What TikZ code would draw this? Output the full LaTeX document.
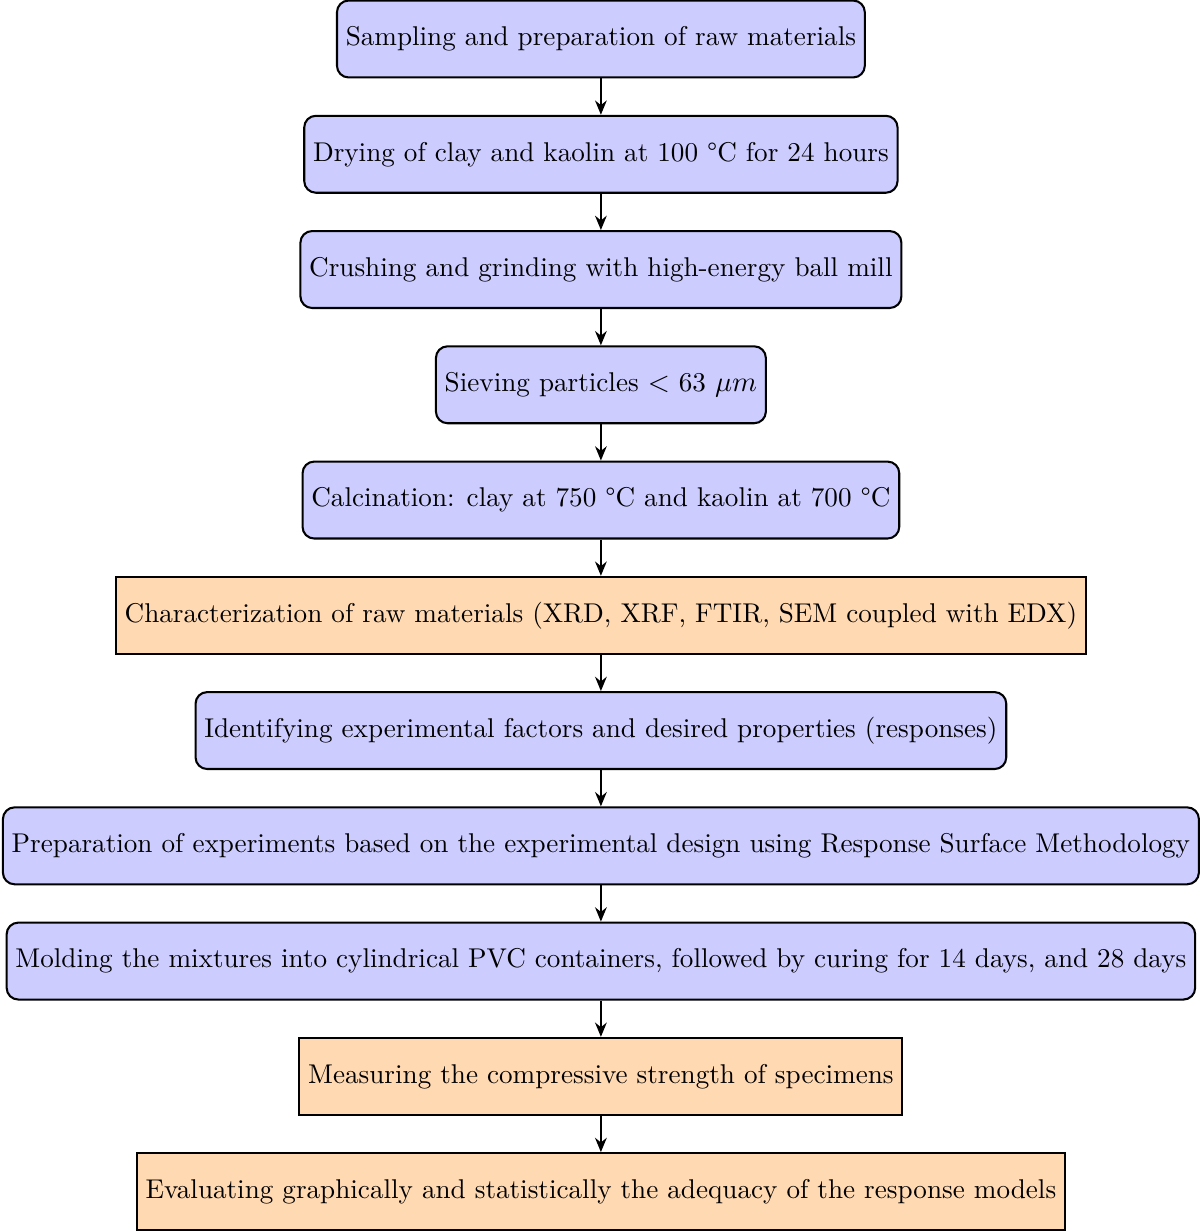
\documentclass[tikz,border=0pt]{standalone}
\usepackage{fontspec}
\usetikzlibrary{arrows.meta}
\definecolor{boxblue}{RGB}{204,204,255}
\definecolor{boxorange}{RGB}{255,217,178}
\begin{document}
\begin{tikzpicture}[x=1pt,y=1pt,
  stepbase/.style={draw=black, thick, minimum height=29.7pt, inner sep=3.4pt, align=center,
    font=\fontsize{10.48pt}{12.6pt}\selectfont},
  bluebox/.style={stepbase, fill=boxblue, rounded corners=4.5pt},
  orangebox/.style={stepbase, fill=boxorange},
  flow/.style={-{Stealth[length=5.5pt,width=4.5pt]}, thick}]
\useasboundingbox (-232,15.06) rectangle (231.3,-460.6);
\node[bluebox] (n1) at (0,0) {Sampling and preparation of raw materials};
\node[bluebox] (n2) at (0,-44.5) {Drying of clay and kaolin at 100 °C for 24 hours};
\node[bluebox] (n3) at (0,-89) {Crushing and grinding with high-energy ball mill};
\node[bluebox] (n4) at (0,-133.5) {Sieving particles $<$ 63 $\mu m$};
\node[bluebox] (n5) at (0,-178) {Calcination: clay at 750 °C and kaolin at 700 °C};
\node[orangebox] (n6) at (0,-222.5) {Characterization of raw materials (XRD, XRF, FTIR, SEM coupled with EDX)};
\node[bluebox] (n7) at (0,-267) {Identifying experimental factors and desired properties (responses)};
\node[bluebox] (n8) at (0,-311.5) {Preparation of experiments based on the experimental design using Response Surface Methodology};
\node[bluebox] (n9) at (0,-356) {Molding the mixtures into cylindrical PVC containers, followed by curing for 14 days, and 28 days};
\node[orangebox] (n10) at (0,-400.5) {Measuring the compressive strength of specimens};
\node[orangebox] (n11) at (0,-445) {Evaluating graphically and statistically the adequacy of the response models};
\foreach \a/\b in {n1/n2,n2/n3,n3/n4,n4/n5,n5/n6,n6/n7,n7/n8,n8/n9,n9/n10,n10/n11}
  \draw[flow] (\a) -- (\b);
\end{tikzpicture}
\end{document}
